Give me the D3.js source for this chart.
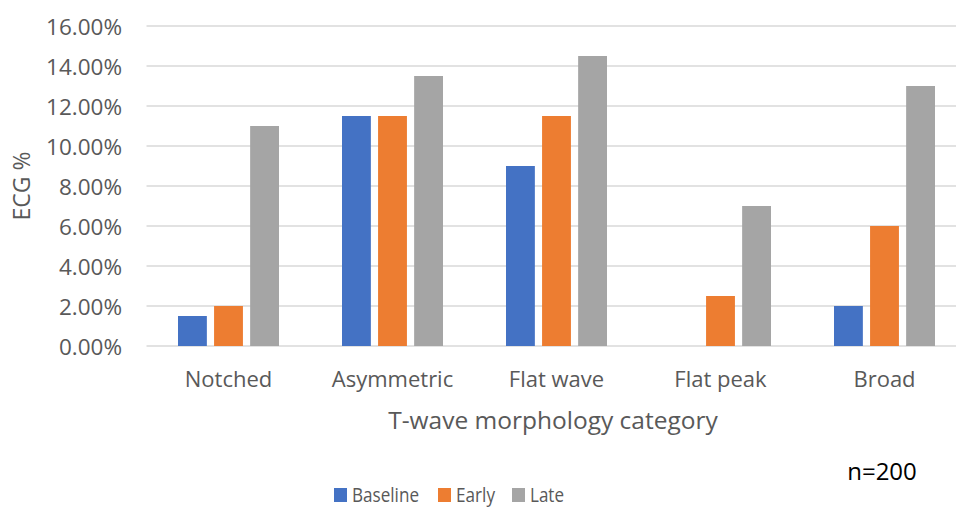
<!DOCTYPE html>
<html><head><meta charset="utf-8">
<script src="https://cdn.jsdelivr.net/npm/d3@7"></script>
<style>body{margin:0;background:#fff}svg{display:block}text{font-family:"Open Sans","Noto Sans",sans-serif}</style>
</head><body>
<svg id="c" width="956" height="508"></svg>
<script>
const categories = ["Notched","Asymmetric","Flat wave","Flat peak","Broad"];
const seriesNames = ["Baseline","Early","Late"];
const baseline = [1.5, 11.5, 9, 0, 2];
const early = [2, 11.5, 11.5, 2.5, 6];
const late = [11, 13.5, 14.5, 7, 13];
const colors = ["#4472c4","#ed7d31","#a5a5a5"];
const yTicks = [0,2,4,6,8,10,12,14,16];

(function(){
const svg = d3.select("#c");
const left = 146.5, step = 164, plotTop = 26, plotBottom = 346;
const x = d3.scaleBand().domain(categories).range([left, left + step*categories.length]).paddingInner(0).paddingOuter(0);
const y = d3.scaleLinear().domain([0,16]).range([plotBottom, plotTop]);
const xs = d3.scaleBand().domain(seriesNames).range([0,101]).paddingInner(0.2);

svg.append("g").selectAll("line").data(yTicks).join("line")
  .attr("x1", left).attr("x2", 956).attr("y1", d=>y(d)).attr("y2", d=>y(d))
  .attr("stroke","#d9d9d9").attr("stroke-width",1.5);

const yAxis = d3.axisLeft(y).tickValues(yTicks).tickSize(0).tickPadding(0).tickFormat(d=>d.toFixed(2)+"%");
const ga = svg.append("g").attr("transform","translate(122,1)").call(yAxis);
ga.select(".domain").remove();
ga.selectAll("text").attr("font-size",22.5).attr("fill","#595959").attr("font-family","'Open Sans',sans-serif");

const data = [baseline, early, late];
seriesNames.forEach((s, si) => {
  svg.append("g").selectAll("rect").data(categories.map((c,i)=>({c, v:data[si][i]}))).join("rect")
    .attr("x", d => x(d.c) + x.bandwidth()/2 - 50.5 + xs(s))
    .attr("width", xs.bandwidth())
    .attr("y", d => y(d.v))
    .attr("height", d => y(0) - y(d.v))
    .attr("fill", colors[si]);
});

const xAxis = d3.axisBottom(x).tickSize(0).tickPadding(0);
const gx = svg.append("g").attr("transform","translate(0,387)").call(xAxis);
gx.select(".domain").remove();
gx.selectAll("text").attr("font-size",22).attr("fill","#595959").attr("y",0).attr("dy","0").attr("font-family","'Open Sans',sans-serif");

svg.append("text").attr("x", 553).attr("y", 429).attr("text-anchor","middle")
  .attr("font-size",24.5).attr("fill","#595959").text("T-wave morphology category");
svg.append("text").attr("transform","translate(30,186) rotate(-90)").attr("text-anchor","middle")
  .attr("font-size",23).attr("fill","#595959").text("ECG %");

svg.append("text").attr("x", 882).attr("y", 480).attr("text-anchor","middle")
  .attr("font-size",24).attr("fill","#000").text("n=200");

const legX = [334, 438, 512];
const legW = [67, 39, 34];
seriesNames.forEach((s,i)=>{
  svg.append("rect").attr("x", legX[i]).attr("y", 488).attr("width",13).attr("height",14).attr("fill",colors[i]);
  svg.append("text").attr("x", legX[i]+18).attr("y", 502).attr("font-size",20).attr("fill","#595959")
    .attr("textLength", legW[i]).attr("lengthAdjust","spacingAndGlyphs").text(s);
});
})();
</script>
</body></html>
